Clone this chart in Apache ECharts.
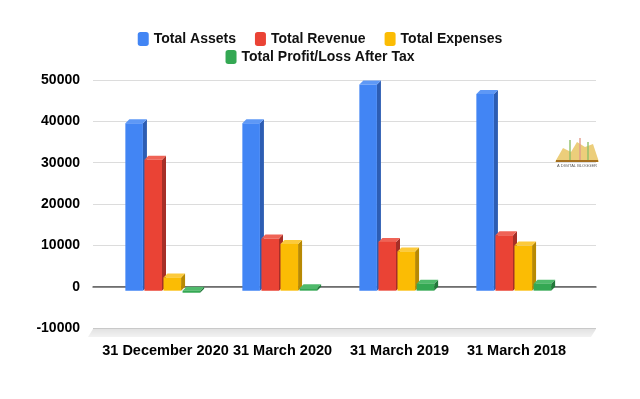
<!DOCTYPE html>
<html>
<head>
<meta charset="utf-8">
<script src="https://cdn.jsdelivr.net/npm/echarts@6/dist/echarts.min.js"></script>
<style>
  html, body { margin: 0; padding: 0; background: #fff; }
  #chart { width: 640px; height: 399px; }
</style>
</head>
<body>
<div id="chart"></div>
<script>
const categories = ['31 December 2020', '31 March 2020', '31 March 2019', '31 March 2018']
const seriesNames = ['Total Assets', 'Total Revenue', 'Total Expenses', 'Total Profit/Loss After Tax']
const totalAssets = [40500, 40500, 49900, 47600]
const totalRevenue = [31700, 12600, 11800, 13400]
const totalExpenses = [3200, 11300, 9500, 10900]
const totalProfit = [-500, 600, 1700, 1700]
const yTicks = [-10000, 0, 10000, 20000, 30000, 40000, 50000]

// front / top / side shades for the 3d look
const shades = [
  { front: '#4285f4', top: '#5e98f6', side: '#2d5db3' },
  { front: '#ea4335', top: '#ef6356', side: '#a62f27' },
  { front: '#fbbc04', top: '#fcca3c', side: '#b88903' },
  { front: '#34a853', top: '#4fba6b', side: '#22783a' }
]

const font = "'Liberation Sans', Arial, sans-serif"
const depth = 4

function renderBar(params, api) {
  const cat = api.value(0)
  const val = api.value(1)
  const base = api.coord([cat, 0])
  const tip = api.coord([cat, val])
  const band = api.size([1, 0])[0]
  const pitch = band * 0.163
  const w = pitch - 1.5
  const k = params.seriesIndex
  const x0 = base[0] - 2 - 2 * pitch + k * pitch
  const yHi = Math.min(base[1], tip[1]) + depth
  const yLo = Math.max(base[1], tip[1]) + depth
  const c = shades[k]
  return {
    type: 'group',
    children: [
      {
        type: 'polygon',
        shape: { points: [[x0 + w, yHi], [x0 + w + depth, yHi - depth], [x0 + w + depth, yLo - depth], [x0 + w, yLo]] },
        style: { fill: c.side }
      },
      {
        type: 'polygon',
        shape: { points: [[x0, yHi], [x0 + depth, yHi - depth], [x0 + w + depth, yHi - depth], [x0 + w, yHi]] },
        style: { fill: c.top }
      },
      {
        type: 'rect',
        shape: { x: x0, y: yHi, width: w, height: Math.max(yLo - yHi, 1) },
        style: { fill: c.front }
      }
    ]
  }
}

const dataSets = [totalAssets, totalRevenue, totalExpenses, totalProfit]

const chart = echarts.init(document.getElementById('chart'), null, { renderer: 'canvas' })

const legendText = { fontSize: 14, fontWeight: 'bold', color: '#111', fontFamily: font }

chart.setOption({
  animation: false,
  backgroundColor: '#fff',
  legend: [
    {
      data: seriesNames.slice(0, 3),
      top: 27,
      left: 'center',
      icon: 'roundRect',
      itemWidth: 11,
      itemHeight: 14,
      itemGap: 19,
      textStyle: legendText
    },
    {
      data: seriesNames.slice(3),
      top: 45,
      left: 'center',
      icon: 'roundRect',
      itemWidth: 11,
      itemHeight: 14,
      textStyle: legendText
    }
  ],
  grid: [
    { left: 93, right: 44, top: 80, bottom: 71 },
    { left: 107, right: 65, top: 80, bottom: 71 }
  ],
  xAxis: [
    {
      gridIndex: 0,
      type: 'category',
      data: categories,
      axisLabel: { show: false },
      axisTick: { show: false },
      axisLine: { show: true, onZero: true, lineStyle: { color: '#666', width: 1.5 } }
    },
    {
      gridIndex: 1,
      type: 'category',
      data: categories,
      axisTick: { show: false },
      axisLine: { show: false },
      axisLabel: { interval: 0, margin: 15, fontSize: 14.5, fontWeight: 'bold', color: '#000', fontFamily: font }
    }
  ],
  yAxis: [
    {
      gridIndex: 0,
      type: 'value',
      min: yTicks[0],
      max: yTicks[yTicks.length - 1],
      interval: 10000,
      axisLabel: {
        margin: 13,
        fontSize: 14,
        fontWeight: 'bold',
        color: '#000',
        fontFamily: font,
        formatter: v => String(v)
      },
      axisLine: { show: false },
      axisTick: { show: false },
      splitLine: { lineStyle: { color: ['#c9c9c9', '#888', '#dcdcdc', '#dcdcdc', '#dcdcdc', '#dcdcdc', '#dcdcdc'] } }
    },
    {
      gridIndex: 1,
      type: 'value',
      min: yTicks[0],
      max: yTicks[yTicks.length - 1],
      interval: 10000,
      show: false
    }
  ],
  graphic: [
    {
      type: 'polygon',
      z: -1,
      shape: { points: [[93, 329], [596, 329], [591, 337], [88, 337]] },
      style: {
        fill: new echarts.graphic.LinearGradient(0, 0, 0, 1, [
          { offset: 0, color: '#e2e2e2' },
          { offset: 1, color: '#f2f2f2' }
        ])
      }
    },
    {
      type: 'group',
      left: 555,
      top: 138,
      children: [
        { type: 'polygon', shape: { points: [[0, 24], [8, 10], [16, 14], [22, 4], [30, 9], [38, 6], [44, 24]] }, style: { fill: '#e7c25a', opacity: 0.8 } },
        { type: 'rect', shape: { x: 14, y: 2, width: 2, height: 20 }, style: { fill: '#8fbf6a', opacity: 0.7 } },
        { type: 'rect', shape: { x: 24, y: 0, width: 2, height: 22 }, style: { fill: '#e39b8a', opacity: 0.7 } },
        { type: 'rect', shape: { x: 32, y: 4, width: 2, height: 18 }, style: { fill: '#8fbf6a', opacity: 0.7 } },
        { type: 'rect', shape: { x: 1, y: 22, width: 42, height: 2 }, style: { fill: '#a5701f' } },
        { type: 'text', style: { x: 22, y: 26, text: 'A DIGITAL BLOGGER', fontSize: 4, fill: '#555', align: 'center' } }
      ]
    }
  ],
  series: dataSets.map((values, k) => ({
    name: seriesNames[k],
    type: 'custom',
    xAxisIndex: 1,
    yAxisIndex: 1,
    itemStyle: { color: shades[k].front },
    renderItem: renderBar,
    encode: { x: 0, y: 1 },
    data: values.map((v, i) => [i, v])
  }))
})
</script>
</body>
</html>
